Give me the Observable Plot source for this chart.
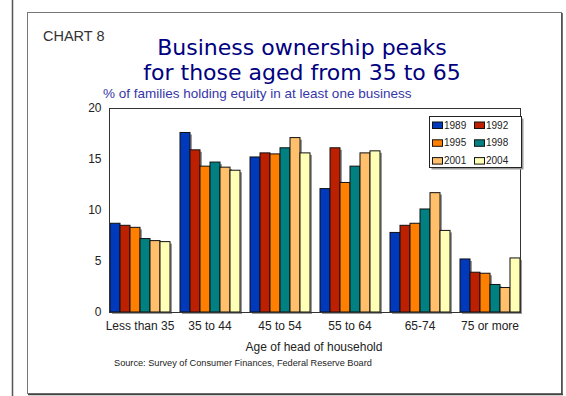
<!DOCTYPE html>
<html><head><meta charset="utf-8">
<script src="https://cdn.jsdelivr.net/npm/d3@7"></script>
<script src="https://cdn.jsdelivr.net/npm/@observablehq/plot@0.6"></script>
<style>
body{margin:0;background:#fff;}
#wrap{position:relative;width:566px;height:396px;overflow:hidden;font-family:"Liberation Sans",Arial,sans-serif;}
#wrap svg{position:absolute;left:0;top:0;}
</style></head><body><div id="wrap"></div>
<script>
const categories = ["Less than 35","35 to 44","45 to 54","55 to 64","65-74","75 or more"];
const years = ["1989","1992","1995","1998","2001","2004"];
const colors = ["#0039bb","#bd2000","#ff7f00","#008080","#ffbf6b","#ffffb5"];
const v1989 = [8.7,17.6,15.2,12.1,7.8,5.2];
const v1992 = [8.5,15.9,15.6,16.1,8.5,3.9];
const v1995 = [8.3,14.3,15.5,12.7,8.7,3.8];
const v1998 = [7.2,14.7,16.1,14.3,10.1,2.7];
const v2001 = [7.0,14.2,17.1,15.6,11.7,2.4];
const v2004 = [6.9,13.9,15.6,15.8,8.0,5.3];
const yTicks = [0,5,10,15,20];
const chartLabel = "CHART 8";
const titleLines = ["Business ownership peaks","for those aged from 35 to 65"];
const subtitle = "% of families holding equity in at least one business";
const xLabel = "Age of head of household";
const source = "Source: Survey of Consumer Finances, Federal Reserve Board";

const series = [v1989,v1992,v1995,v1998,v2001,v2004];
const data = years.flatMap((yr,i)=>categories.map((c,j)=>({category:c,year:yr,value:series[i][j]})));

const W=566,H=396;
const wrap=d3.select("#wrap");

// decorative frame (underneath)
const under=wrap.append("svg").attr("width",W).attr("height",H);
under.append("line").attr("x1",12.5).attr("x2",12.5).attr("y1",0).attr("y2",H).attr("stroke","#555").attr("stroke-width",1.5);
under.append("rect").attr("x",27.5).attr("y",12.5).attr("width",534).attr("height",381)
  .attr("fill","none").attr("stroke","#777");
under.append("line").attr("x1",562).attr("x2",562).attr("y1",13).attr("y2",395).attr("stroke","#444").attr("stroke-width",1.5);
under.append("line").attr("x1",28).attr("x2",563).attr("y1",394.5).attr("y2",394.5).attr("stroke","#444").attr("stroke-width",1.5);

const chart = Plot.plot({
  width:W,height:H,
  marginLeft:103,marginRight:41,marginTop:108,marginBottom:84,
  style:{background:"transparent",fontFamily:"'Liberation Sans', Arial, sans-serif",fontSize:"12px",color:"#222"},
  fx:{domain:categories,paddingInner:0.135,paddingOuter:0.075,axis:"bottom",tickSize:0,tickPadding:9,label:null},
  x:{domain:years,padding:0,axis:null},
  y:{domain:[0,20],ticks:yTicks,tickSize:0,tickPadding:8,label:null},
  color:{domain:years,range:colors},
  marks:[
    Plot.barY(data,{fx:"category",x:"year",y:"value",fill:"#9a9a9a",dx:2,dy:2}),
    Plot.barY(data,{fx:"category",x:"year",y:"value",fill:"year",stroke:"#111",strokeWidth:1}),
    Plot.frame({facet:"super",stroke:"#333"})
  ]
});
wrap.node().appendChild(chart);

// texts and legend overlay
const over=wrap.append("svg").attr("width",W).attr("height",H).style("pointer-events","none");
over.append("text").attr("x",43).attr("y",40.5).attr("font-size",14.5).attr("fill","#333").text(chartLabel);
titleLines.forEach((t,i)=>{
  over.append("text").attr("x",302).attr("y",55+i*25).attr("text-anchor","middle")
    .attr("font-family","'DejaVu Sans', sans-serif").attr("font-size",22).attr("fill","#000080").text(t);
});
over.append("text").attr("x",103).attr("y",97.5).attr("font-size",13.5).attr("fill","#3636a8").text(subtitle);
over.append("text").attr("x",314).attr("y",351).attr("text-anchor","middle").attr("font-size",12).attr("fill","#222").text(xLabel);
over.append("text").attr("x",114).attr("y",366).attr("font-size",9.2).attr("fill","#222").text(source);

// legend
const lg=over.append("g");
lg.append("rect").attr("x",431.5).attr("y",118.5).attr("width",92).attr("height",51).attr("fill","#999");
lg.append("rect").attr("x",429.5).attr("y",116.5).attr("width",92).attr("height",51).attr("fill","#fff").attr("stroke","#222");
years.forEach((yr,i)=>{
  const col=i%2,row=Math.floor(i/2);
  const bx=432.5+col*42, by=128.5+row*17.8;
  lg.append("rect").attr("x",bx).attr("y",by-6.5).attr("width",10).attr("height",6.5)
    .attr("fill",colors[i]).attr("stroke","#111");
  lg.append("text").attr("x",bx+11.5).attr("y",by).attr("font-size",10).attr("fill","#222").text(yr);
});
</script></body></html>
